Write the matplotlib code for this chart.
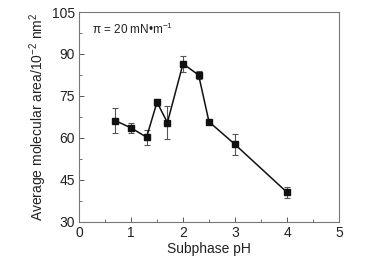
import matplotlib
matplotlib.use("Agg")
import matplotlib.pyplot as plt
from matplotlib.ticker import MultipleLocator

ph = [0.7, 1.0, 1.3, 1.5, 1.7, 2.0, 2.3, 2.5, 3.0, 4.0]
area = [66.2, 63.6, 60.3, 72.8, 65.5, 86.5, 82.5, 65.8, 57.7, 40.6]
err = [4.4, 1.8, 2.7, 1.3, 6.0, 2.8, 1.4, 0.5, 3.8, 1.9]

plt.rcParams['font.family'] = ['Liberation Sans', 'DejaVu Sans']
plt.rcParams['mathtext.fontset'] = 'custom'
plt.rcParams['mathtext.rm'] = 'Liberation Sans'
plt.rcParams['mathtext.it'] = 'Liberation Sans:italic'
plt.rcParams['mathtext.default'] = 'regular'

fig = plt.figure(figsize=(3.77, 2.58), dpi=100)
ax = fig.add_axes([79/377, 1 - 222/258, 260/377, 210/258])

ax.errorbar(ph, area, yerr=err, fmt='-s', color='#111111', ms=4.5, lw=1.1,
            ecolor='#555555', elinewidth=0.8, capsize=2, capthick=0.8)

ax.set_xlim(0, 5)
ax.set_ylim(30, 105)
ax.xaxis.set_major_locator(MultipleLocator(1))
ax.xaxis.set_minor_locator(MultipleLocator(0.5))
ax.yaxis.set_major_locator(MultipleLocator(15))
ax.yaxis.set_minor_locator(MultipleLocator(7.5))
ax.tick_params(which='both', direction='in', top=False, right=False,
               color='#555555', labelsize=10, labelcolor='#222222')
ax.tick_params(which='major', length=3.5, width=0.7, pad=3)
ax.tick_params(which='minor', length=2, width=0.6)
for s in ax.spines.values():
    s.set_color('#777777')
    s.set_linewidth(0.8)

ax.set_xlabel('Subphase pH', fontsize=10, color='#222222', labelpad=1)
ax.set_ylabel('Average molecular area/10$^{-2}$ nm$^{2}$', fontsize=10,
              color='#222222', labelpad=2)
ax.text(0.05, 0.915, 'π = 20 mN•m$^{-1}$', transform=ax.transAxes,
        fontsize=8.5, color='#222222', va='center', ha='left')

fig.savefig('out.png', dpi=100)
